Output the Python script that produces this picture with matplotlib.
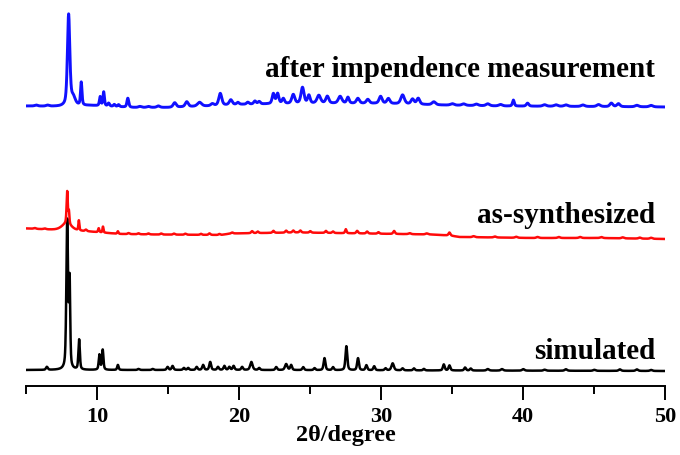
import numpy as np
import matplotlib
matplotlib.use("Agg")
import matplotlib.pyplot as plt

# ---- data (heights in arbitrary stacked units) ----
# simulated pattern (black)
sim_base_x = [5, 20, 35, 50]
sim_base_y = [16, 16, 15.5, 15]
sim_pos = [6.45, 7.88, 8.05, 8.72, 10.15, 10.38, 11.45, 12.9, 13.9, 14.95, 15.3, 16.1,
           16.4, 17.0, 17.45, 17.95, 18.5, 18.95, 19.3, 19.6, 20.2, 20.85, 21.4, 22.6,
           23.3, 23.65, 24.5, 25.3, 26.0, 26.6, 27.54, 28.36, 28.95, 29.5, 30.3, 30.8,
           31.5, 32.3, 33.0, 34.4, 34.8, 35.9, 36.3, 37.5, 38.5, 40.0, 41.5, 43.0,
           45.0, 46.8, 48.0, 49.0]
sim_hgt = [3, 148, 85, 30, 15, 20, 5, 1, 1, 3, 4, 2,
           2, 3, 5, 8, 3, 4, 3, 4, 3, 8, 2, 3,
           6, 5, 3, 2, 12, 3, 24, 12, 5, 4, 2, 7,
           2, 2, 1.5, 6, 5, 3, 2, 1.5, 1.5, 1.5, 1, 1.5,
           1, 1.5, 1.5, 1]
sim_fwhm = [0.15, 0.14, 0.10, 0.12, 0.12, 0.12, 0.12, 0.15, 0.15, 0.15, 0.15, 0.15,
            0.15, 0.15, 0.15, 0.15, 0.15, 0.15, 0.15, 0.15, 0.15, 0.2, 0.15, 0.15,
            0.2, 0.15, 0.15, 0.15, 0.15, 0.15, 0.15, 0.15, 0.15, 0.15, 0.15, 0.2,
            0.15, 0.15, 0.15, 0.15, 0.15, 0.15, 0.15, 0.2, 0.2, 0.2, 0.2, 0.2,
            0.2, 0.2, 0.2, 0.2]

# as-synthesized (red)
syn_base_x = [5, 7.0, 9.3, 11.6, 14, 18.7, 19.4, 24.1, 28.8, 33.5, 34.8, 35.5, 40.6, 45.3, 50]
syn_base_y = [157.5, 156, 154.5, 152, 151.5, 151, 152.5, 153.5, 152.5, 151.5, 150.5, 149,
              148, 148, 147]
syn_pos = [5.6, 6.3, 7.85, 7.88, 8.0, 8.7, 9.2, 10.1, 10.4, 11.45, 12.2, 12.9, 13.6, 14.5,
           15.4, 16.2, 17.3, 17.9, 18.6, 19.5, 20.9, 21.3, 22.4, 23.3, 23.8, 24.3, 25.0,
           26.1, 26.6, 27.5, 28.3, 29.0, 29.8, 30.9, 32.0, 33.2, 34.8, 36.5, 38.0, 39.5,
           41.0, 42.5, 44.0, 45.5, 47.0, 48.2, 49.0]
syn_hgt = [0.8, 0.8, 7, 32, 12, 10, 1.5, 4, 6, 2.5, 1, 1, 1, 1,
           1, 1, 1, 1.5, 1, 1, 2, 1.5, 2, 2, 2, 2, 1.5,
           2, 1.5, 4, 2.5, 2, 1.5, 3, 1, 1, 3, 1, 1, 1,
           1, 1, 1, 1, 1, 1, 1]
syn_fwhm = [0.2, 0.2, 0.8, 0.10, 0.08, 0.08, 0.15, 0.10, 0.08, 0.10, 0.15, 0.15, 0.15, 0.15,
            0.15, 0.15, 0.15, 0.15, 0.15, 0.15, 0.15, 0.15, 0.15, 0.15, 0.15, 0.15, 0.15,
            0.15, 0.15, 0.12, 0.15, 0.15, 0.15, 0.15, 0.2, 0.2, 0.15, 0.2, 0.2, 0.2,
            0.2, 0.2, 0.2, 0.2, 0.2, 0.2, 0.2]

# after impendence measurement (blue)
imp_base_x = [5, 7.4, 9.5, 12.5, 15, 18, 20, 22, 26, 30, 34, 38, 44, 50]
imp_base_y = [280, 279.5, 280.5, 278.5, 278.5, 280, 281.5, 282, 282.5, 282.5, 281, 280,
              279.5, 279]
imp_pos = [5.7, 6.5, 7.98, 8.3, 8.87, 10.2, 10.45, 10.8, 11.2, 11.5, 12.15, 13.0, 13.6,
           14.3, 15.45, 16.3, 17.2, 18.1, 18.66, 19.4, 19.9, 20.6, 21.1, 21.4, 22.4, 22.7,
           23.1, 23.8, 24.45, 24.9, 25.6, 26.2, 27.1, 27.65, 28.35, 29.05, 29.95, 30.5,
           31.5, 32.2, 32.6, 33.7, 35.0, 35.8, 36.7, 37.5, 38.4, 39.3, 40.3, 41.5, 42.3,
           43.0, 44.2, 45.3, 46.2, 46.7, 48.0, 49.0]
imp_hgt = [1, 1, 91, 8, 23, 9, 14, 3, 2, 2, 9, 1, 1,
           1.5, 4.5, 5, 4, 2, 12, 5, 2, 2, 3, 2.5, 10, 10,
           5, 9, 16, 8, 8, 7, 7, 6, 5, 4, 7, 5,
           9, 5, 6, 3, 1.5, 1.5, 1.5, 2, 1.5, 6, 3, 1.5, 1.5,
           1.5, 1.5, 2, 3.5, 3, 1.5, 1.5]
imp_fwhm = [0.25, 0.25, 0.2, 0.35, 0.12, 0.12, 0.12, 0.15, 0.15, 0.15, 0.15, 0.25, 0.25,
            0.25, 0.25, 0.25, 0.35, 0.25, 0.25, 0.25, 0.2, 0.2, 0.2, 0.2, 0.2, 0.2,
            0.2, 0.25, 0.25, 0.2, 0.3, 0.25, 0.3, 0.2, 0.25, 0.25, 0.25, 0.25,
            0.3, 0.25, 0.25, 0.3, 0.3, 0.3, 0.3, 0.3, 0.3, 0.15, 0.2, 0.3, 0.3,
            0.3, 0.3, 0.3, 0.25, 0.25, 0.3, 0.3]

labels = ["simulated", "as-synthesized", "after impendence measurement"]
label_y = [27, 163, 309]
colors = ["black", "#ff0a0a", "#1010ff"]
widths = [1.8, 1.8, 2.1]


def pattern(x, base_x, base_y, pos, hgt, fwhm, eta=0.5):
    """Stack pseudo-Voigt peaks on a background line."""
    y = np.interp(x, base_x, base_y)
    for p, h, w in zip(pos, hgt, fwhm):
        d = (x - p) / (w / 2)
        lor = 1 / (1 + d ** 2)
        gau = np.exp(-np.log(2) * d ** 2)
        y = y + h * (eta * lor + (1 - eta) * gau)
    return y


two_theta = np.linspace(5, 50, 4501)
traces = [
    pattern(two_theta, sim_base_x, sim_base_y, sim_pos, sim_hgt, sim_fwhm),
    pattern(two_theta, syn_base_x, syn_base_y, syn_pos, syn_hgt, syn_fwhm),
    pattern(two_theta, imp_base_x, imp_base_y, imp_pos, imp_hgt, imp_fwhm),
]

plt.rcParams["font.family"] = "Liberation Serif"
plt.rcParams["font.weight"] = "bold"

fig = plt.figure(figsize=(6.8, 4.55), dpi=100)
ax = fig.add_axes([26.3 / 680, 69 / 455, 639 / 680, 386 / 455])

for i, (y, c) in enumerate(zip(traces, colors)):
    ax.plot(two_theta, y, color=c, lw=widths[i], zorder=2 + i)
    ax.text(49.28, label_y[i], labels[i], ha="right", va="baseline",
            fontsize=21, fontweight="bold")

ax.set_xlim(5, 50)
ax.set_ylim(0, 386)
for s in ["left", "right", "top"]:
    ax.spines[s].set_visible(False)
ax.spines["bottom"].set_linewidth(1.4)
ax.set_yticks([])
ax.set_xticks([10, 20, 30, 40, 50])
ax.set_xticks([5, 15, 25, 35, 45], minor=True)
ax.tick_params(axis="x", which="major", direction="out", length=10, width=1.4,
               labelsize=16, pad=5)
ax.tick_params(axis="x", which="minor", direction="out", length=6, width=1.4)
for lab in ax.get_xticklabels():
    lab.set_fontweight("bold")
ax.set_xlabel("2θ/degree", fontsize=17.5, fontweight="bold", labelpad=-1)

fig.savefig("out.png", dpi=100)
